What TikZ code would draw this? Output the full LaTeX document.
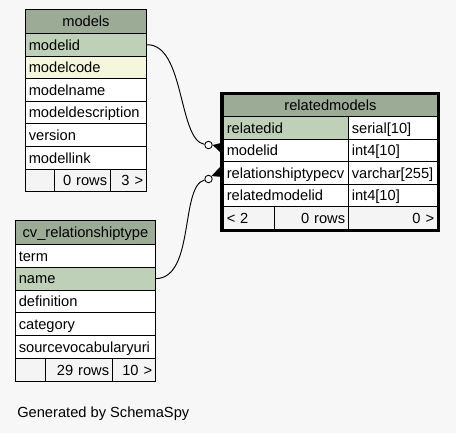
\documentclass[tikz,border=0pt]{standalone}
\usepackage{fontspec}
\setmainfont{Liberation Sans}
\definecolor{bgc}{HTML}{F7F7F7}
\definecolor{hdrc}{HTML}{9BAB96}
\definecolor{keyc}{HTML}{BED1B8}
\definecolor{idxc}{HTML}{F5F7DC}
\definecolor{footc}{HTML}{F4F4F4}
% one table cell: name, x, y, width (px), style, text
\newcommand\fld[6]{%
  \pgfmathsetlengthmacro\fldw{#4*0.75pt-5pt}%
  \node[fld,text width=\fldw,#5] (#1) at (#2,#3) {#6};}

\begin{document}
\begin{tikzpicture}[x=0.75pt,y=-0.75pt,
    fld/.style={draw,line width=0.65pt,fill=white,anchor=north west,inner xsep=2.5pt,inner ysep=0pt,
      minimum height=16.95pt,text height=8pt,text depth=0pt,align=left,font=\fontsize{11}{13}\selectfont},
    hdr/.style={fill=hdrc,align=center,minimum height=18pt},
    key/.style={fill=keyc},
    idx/.style={fill=idxc},
    foot/.style={fill=footc,align=right},
    tall/.style={minimum height=17.1pt},
    odot/.style={circle,draw,line width=0.65pt,fill=white,inner sep=0pt,minimum size=5.6pt},
    rel/.style={line width=0.7pt}]
  \useasboundingbox (0,0) rectangle (456,433);
  \fill[bgc] (0,0) rectangle (456,433);

  % models
  \fld{models-hdr}{25}{9}{121}{hdr}{models}
  \fld{models-modelid}{25}{33}{121}{key}{modelid}
  \fld{models-modelcode}{25}{55.6}{121}{idx}{modelcode}
  \fld{models-modelname}{25}{78.2}{121}{}{modelname}
  \fld{models-modeldescription}{25}{100.8}{121}{}{modeldescription}
  \fld{models-version}{25}{123.4}{121}{}{version}
  \fld{models-modellink}{25}{146}{121}{}{modellink}
  \fld{models-f1}{25}{168.6}{29}{foot}{}
  \fld{models-f2}{54}{168.6}{56}{foot}{0 rows}
  \fld{models-f3}{110}{168.6}{36}{foot}{3 >}

  % cv_relationshiptype
  \fld{cv-hdr}{15}{220}{140}{hdr}{cv\_relationshiptype}
  \fld{cv-term}{15}{244}{140}{tall}{term}
  \fld{cv-name}{15}{266.8}{140}{tall,key}{name}
  \fld{cv-definition}{15}{289.6}{140}{tall}{definition}
  \fld{cv-category}{15}{312.4}{140}{tall}{category}
  \fld{cv-sourcevocabularyuri}{15}{335.2}{140}{tall}{sourcevocabularyuri}
  \fld{cv-f1}{15}{358}{30}{tall,foot}{}
  \fld{cv-f2}{45}{358}{67}{tall,foot}{29 rows}
  \fld{cv-f3}{112}{358}{43}{tall,foot}{10 >}

  % relatedmodels
  \fld{rm-hdr}{223}{94}{214}{hdr,minimum height=16.5pt}{relatedmodels}
  \fld{rm-relatedid}{223}{116}{125}{key}{relatedid}
  \fld{rm-relatedid-t}{348}{116}{89}{}{serial[10]}
  \fld{rm-modelid}{223}{138.6}{125}{}{modelid}
  \fld{rm-modelid-t}{348}{138.6}{89}{}{int4[10]}
  \fld{rm-relationshiptypecv}{223}{161.2}{125}{}{relationshiptypecv}
  \fld{rm-relationshiptypecv-t}{348}{161.2}{89}{}{varchar[255]}
  \fld{rm-relatedmodelid}{223}{183.8}{125}{}{relatedmodelid}
  \fld{rm-relatedmodelid-t}{348}{183.8}{89}{}{int4[10]}
  \fld{rm-f1}{223}{206.4}{51}{foot,align=left}{< 2}
  \fld{rm-f2}{274}{206.4}{74}{foot}{0 rows}
  \fld{rm-f3}{348}{206.4}{89}{foot}{0 >}
  \draw[line width=2pt] (221.7,93.2) rectangle (438.3,230.3);

  % relations
  \node[odot] (c-model) at (208.5,145) {};
  \node[odot] (c-type) at (208.5,179) {};
  \draw[rel] (models-modelid.east) .. controls (185,44) and (178,140) .. (c-model);
  \draw[rel] (cv-name.east) .. controls (195,278) and (180,186) .. (c-type);
  \fill (c-model.east) -- (221,143) -- (222,154) -- cycle;
  \fill (c-type.north east) -- (220,167) -- (223,177) -- cycle;

  \node[anchor=west,inner sep=0pt,font=\fontsize{11}{13}\selectfont] (gen) at (17,414) {Generated by SchemaSpy};
\end{tikzpicture}
\end{document}
